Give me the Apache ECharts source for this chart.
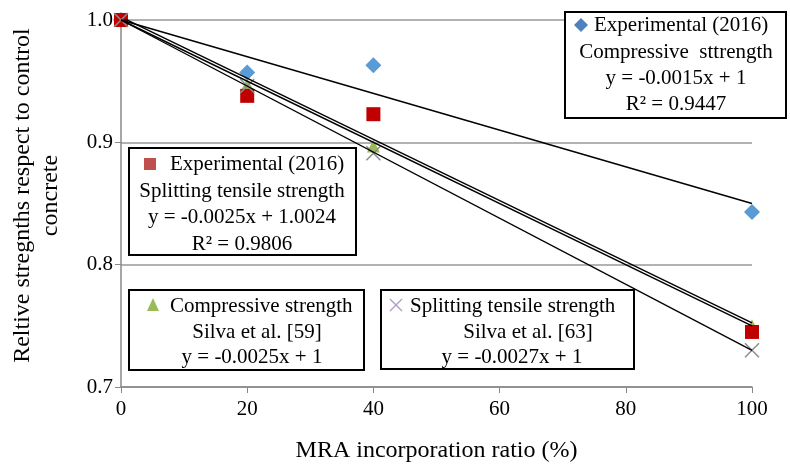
<!DOCTYPE html>
<html>
<head>
<meta charset="utf-8">
<script src="https://cdn.jsdelivr.net/npm/echarts@6/dist/echarts.min.js"></script>
<style>html,body{margin:0;padding:0;background:#fff;}#c{width:790px;height:466px;}</style>
</head>
<body>
<div id="c"></div>
<script>
// ---- data ----
var xValues = [0, 20, 40, 100];
var expCompressive = [1.0, 0.957, 0.963, 0.843];
var expSplitting = [1.0, 0.938, 0.923, 0.745];
var silvaCompressive = [1.0, 0.947, 0.897, 0.75];
var silvaSplitting = [1.0, 0.946, 0.891, 0.730];
var trendNames = ['Exp compressive trend', 'Exp splitting trend', 'Silva compressive trend', 'Silva splitting trend'];
var trendSlopes = [-0.0015, -0.0025, -0.0025, -0.0027];
var trendIntercepts = [1, 1.0024, 1, 1];
var trendRange = [0, 100];
var yTicks = [0.7, 0.8, 0.9, 1.0];
var xTicks = [0, 20, 40, 60, 80, 100];

var FONT = 'Liberation Serif';
function pts(vals) { return xValues.map(function (x, i) { return [x, vals[i]]; }); }

var series = [];
trendSlopes.forEach(function (m, i) {
  series.push({
    name: trendNames[i], type: 'line', symbol: 'none', z: 5, silent: true,
    lineStyle: { color: '#000', width: 1.4 },
    data: trendRange.map(function (x) { return [x, trendIntercepts[i] + m * x]; })
  });
});
series.push({ name: 'expC', type: 'scatter', symbol: 'diamond', symbolSize: 16, z: 2,
  itemStyle: { color: '#5b9bd5', opacity: 1 }, data: pts(expCompressive) });
series.push({ name: 'silvaC', type: 'scatter', symbol: 'triangle', symbolSize: 13, z: 2,
  itemStyle: { color: '#9bbb59', opacity: 1 }, data: pts(silvaCompressive) });
series.push({ name: 'expS', type: 'scatter', symbol: 'rect', symbolSize: 14, z: 3,
  itemStyle: { color: '#c00000', opacity: 1 }, data: pts(expSplitting) });
series.push({ name: 'silvaS', type: 'scatter', z: 4,
  symbol: 'path://M0,0 L10,10 M10,0 L0,10', symbolSize: 14,
  itemStyle: { color: 'none', borderColor: '#8c8c8c', borderWidth: 1.5, opacity: 1 }, data: pts(silvaSplitting) });

function txt(x, y, s, align) {
  return { type: 'text', x: x, y: y, z: 100, style: { text: s, x: 0, y: 0, align: align || 'center', verticalAlign: 'middle',
    font: '21px "' + FONT + '"', fill: '#000' } };
}
function box(x, y, w, h) {
  return { type: 'rect', z: 90, shape: { x: x, y: y, width: w, height: h },
    style: { fill: '#fff', stroke: '#000', lineWidth: 2 } };
}

var graphic = [
  box(565, 12, 221, 106),
  { type: 'polygon', z: 100, shape: { points: [[581, 18], [588, 25], [581, 32], [574, 25]] }, style: { fill: '#4f81bd' } },
  txt(594, 25, 'Experimental (2016)', 'left'),
  txt(676, 52, 'Compressive  sttrength'),
  txt(676, 78, 'y = -0.0015x + 1'),
  txt(676, 104, 'R² = 0.9447'),

  box(129, 148, 227, 107),
  { type: 'rect', z: 100, shape: { x: 144, y: 158, width: 12, height: 12 }, style: { fill: '#c0504d' } },
  txt(170, 164, 'Experimental (2016)', 'left'),
  txt(242, 191, 'Splitting tensile strength'),
  txt(242, 217, 'y = -0.0025x + 1.0024'),
  txt(242, 244, 'R² = 0.9806'),

  box(129, 290, 235, 80),
  { type: 'polygon', z: 100, shape: { points: [[153, 298], [159, 311], [147, 311]] }, style: { fill: '#9bbb59' } },
  txt(170, 306, 'Compressive strength', 'left'),
  txt(257, 332, 'Silva et al. [59]'),
  txt(252, 357, 'y = -0.0025x + 1'),

  box(381, 290, 253, 79),
  { type: 'polyline', z: 100, shape: { points: [[390, 299], [402, 311]] }, style: { stroke: '#b3a2c7', lineWidth: 1.5 } },
  { type: 'polyline', z: 100, shape: { points: [[402, 299], [390, 311]] }, style: { stroke: '#b3a2c7', lineWidth: 1.5 } },
  txt(410, 306, 'Splitting tensile strength', 'left'),
  txt(528, 332, 'Silva et al. [63]'),
  txt(512, 357, 'y = -0.0027x + 1')
];

var chart = echarts.init(document.getElementById('c'));
chart.setOption({
  animation: false,
  grid: { left: 121, right: 38, top: 20, bottom: 79, containLabel: false, outerBoundsMode: 'none' },
  xAxis: {
    type: 'value', min: xTicks[0], max: xTicks[xTicks.length - 1], interval: 20,
    name: 'MRA incorporation ratio (%)', nameLocation: 'middle', nameGap: 52,
    nameTextStyle: { fontFamily: FONT, fontSize: 24, color: '#000' },
    axisLine: { show: true, lineStyle: { color: '#888', width: 1.5 } },
    axisTick: { show: true, inside: false, length: 6, lineStyle: { color: '#888' } },
    axisLabel: { fontFamily: FONT, fontSize: 21, color: '#000', margin: 12 },
    splitLine: { show: false }
  },
  yAxis: {
    type: 'value', min: yTicks[0], max: yTicks[yTicks.length - 1], interval: 0.1,
    name: 'Reltive stregnths respect to control\nconcrete', nameLocation: 'middle', nameGap: 56,
    nameTextStyle: { fontFamily: FONT, fontSize: 24, color: '#000', lineHeight: 28, padding: [0, 0, 0, 16] },
    axisLine: { show: true, lineStyle: { color: '#888', width: 1.5 } },
    axisTick: { show: true, inside: false, length: 6, lineStyle: { color: '#888' } },
    axisLabel: { fontFamily: FONT, fontSize: 21, color: '#000', margin: 8,
      formatter: function (v) { return v.toFixed(1); } },
    splitLine: { show: true, lineStyle: { color: '#999', width: 1.5 } }
  },
  series: series,
  graphic: graphic
});
</script>
</body>
</html>
